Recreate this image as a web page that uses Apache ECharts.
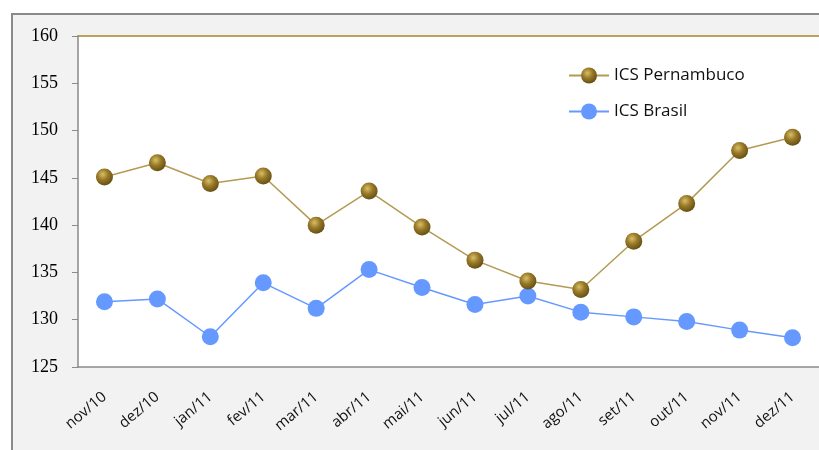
<!DOCTYPE html>
<html>
<head>
<meta charset="utf-8">
<script src="https://cdn.jsdelivr.net/npm/echarts@6/dist/echarts.min.js"></script>
<style>
  html, body { margin: 0; padding: 0; background: #fff; }
  #chart { width: 819px; height: 450px; }
</style>
</head>
<body>
<div id="chart"></div>
<script>
const categories = ['nov/10', 'dez/10', 'jan/11', 'fev/11', 'mar/11', 'abr/11', 'mai/11',
  'jun/11', 'jul/11', 'ago/11', 'set/11', 'out/11', 'nov/11', 'dez/11']
const pernambuco = [145.1, 146.6, 144.4, 145.2, 140.0, 143.6, 139.8, 136.3, 134.1, 133.2, 138.3, 142.3, 147.9, 149.3]
const brasil = [131.9, 132.2, 128.2, 133.9, 131.2, 135.3, 133.4, 131.6, 132.5, 130.8, 130.3, 129.8, 128.9, 128.1]

const chart = echarts.init(document.getElementById('chart'))

// esfera dourada dos marcadores
const sphere = new echarts.graphic.RadialGradient(0.4, 0.35, 0.7, [
  { offset: 0, color: '#d8bf6a' },
  { offset: 0.45, color: '#9a7a28' },
  { offset: 1, color: '#5e4a12' }
])

const option = {
  animation: false,
  backgroundColor: '#fff',
  graphic: [{
    type: 'rect',
    left: 11, top: 13,
    shape: { width: 830, height: 460 },
    style: { fill: '#f2f2f2', stroke: '#8a8a8a', lineWidth: 2 },
    z: -10
  }],
  grid: {
    left: 78, top: 36, width: 745, height: 331,
    show: true, backgroundColor: '#fff', borderWidth: 0
  },
  legend: {
    orient: 'vertical',
    left: 563, top: 62,
    itemWidth: 40, itemHeight: 20, itemGap: 17,
    textStyle: { fontFamily: 'Open Sans', fontSize: 17, fontWeight: 500, color: '#111' },
    data: ['ICS Pernambuco', 'ICS Brasil'],
    itemGap: 19
  },
  xAxis: [{
    type: 'category',
    data: categories,
    boundaryGap: true,
    axisLine: { lineStyle: { color: '#8a8a8a', width: 1.5 } },
    axisTick: { length: 7, lineStyle: { color: '#8a8a8a', width: 1.5 } },
    axisLabel: {
      rotate: 40, margin: 28, color: '#111',
      fontFamily: 'Open Sans', fontSize: 15
    }
  }, {
    type: 'category',
    position: 'top',
    data: categories,
    axisLine: { lineStyle: { color: '#a6852a', width: 1.5 } },
    axisTick: { show: false },
    axisLabel: { show: false }
  }],
  yAxis: {
    type: 'value',
    min: 125, max: 160, interval: 5,
    axisLine: { show: true, lineStyle: { color: '#8a8a8a', width: 1.5 } },
    axisTick: { show: true, length: 6, lineStyle: { color: '#8a8a8a' } },
    splitLine: { show: false },
    axisLabel: {
      margin: 20, color: '#000',
      fontFamily: 'Liberation Serif', fontSize: 18
    }
  },
  series: [
    {
      name: 'ICS Pernambuco',
      type: 'line',
      data: pernambuco,
      symbol: 'circle',
      symbolSize: 17,
      lineStyle: { color: '#b49a52', width: 1.5 },
      itemStyle: { color: sphere },
      z: 3
    },
    {
      name: 'ICS Brasil',
      type: 'line',
      data: brasil,
      symbol: 'circle',
      symbolSize: 17,
      lineStyle: { color: '#6699ff', width: 1.5 },
      itemStyle: { color: '#6699ff' },
      z: 2
    }
  ]
}
chart.setOption(option)
</script>
</body>
</html>
